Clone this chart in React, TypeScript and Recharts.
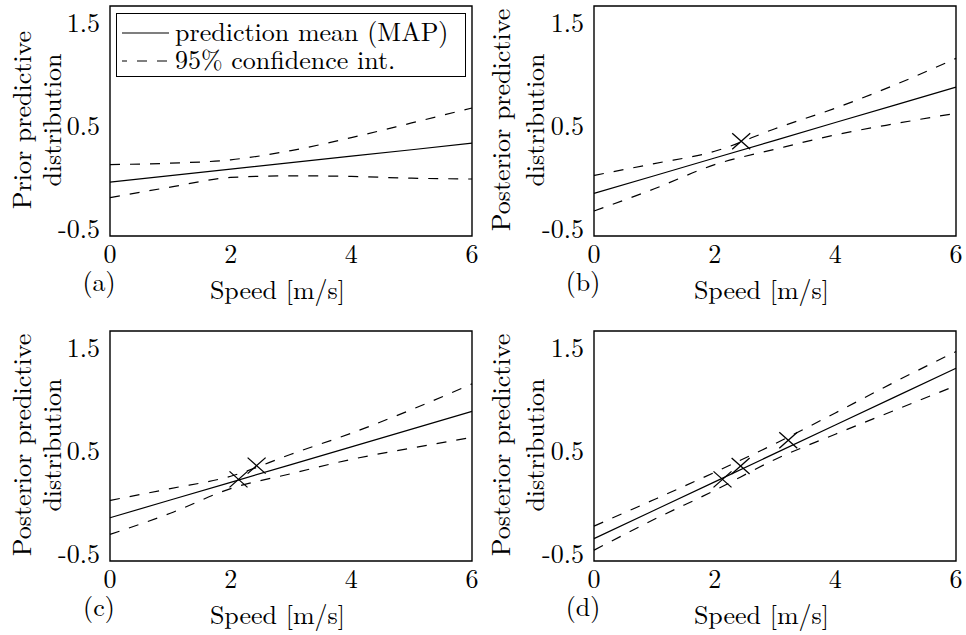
import { ComposedChart, Line, Scatter, XAxis, YAxis, ReferenceArea } from "recharts";

// speed grid (m/s) and curves
const speeds = [0, 1, 2, 3, 4, 5, 6];

const meanA = [-0.05, 0.013, 0.076, 0.139, 0.202, 0.265, 0.33];
const upperA = [0.121, 0.134, 0.167, 0.257, 0.383, 0.526, 0.672];
const lowerA = [-0.202, -0.099, -0.005, 0.011, 0.005, -0.012, -0.02];

const meanB = [-0.16, 0.012, 0.185, 0.357, 0.53, 0.702, 0.875];
const upperB = [0.015, 0.13, 0.25, 0.47, 0.67, 0.9, 1.155];
const lowerB = [-0.332, -0.115, 0.12, 0.27, 0.41, 0.52, 0.62];

const meanC = [-0.154, 0.019, 0.191, 0.364, 0.537, 0.709, 0.882];
const upperC = [0.015, 0.13, 0.25, 0.465, 0.67, 0.9, 1.15];
const lowerC = [-0.316, -0.11, 0.13, 0.275, 0.415, 0.525, 0.63];

const meanD = [-0.357, -0.08, 0.196, 0.473, 0.75, 1.026, 1.303];
const upperD = [-0.235, 0.024, 0.289, 0.567, 0.867, 1.173, 1.465];
const lowerD = [-0.47, -0.169, 0.112, 0.414, 0.66, 0.897, 1.133];

// observed points (crosses)
const obsSpeedB = [2.44];
const obsValueB = [0.348];
const obsSpeedC = [2.13, 2.43];
const obsValueC = [0.22, 0.354];
const obsSpeedD = [2.13, 2.43, 3.22];
const obsValueD = [0.22, 0.35, 0.6];

const xTicks = [0, 2, 4, 6];
const yTicks = [-0.5, 0.5, 1.5];
const yTickLabels = ["-0.5", "0.5", "1.5"];

const FONT = '"Latin Modern Roman", "Liberation Serif", serif';
const FS = 26;
const DASH = "10 10";

const rows = (mean: number[], upper: number[], lower: number[]) =>
  speeds.map((x, i) => ({ x, mean: mean[i], upper: upper[i], lower: lower[i] }));

const points = (xs: number[], ys: number[]) => xs.map((x, i) => ({ x, y: ys[i] }));

const Cross = (props: any) => {
  const { cx, cy } = props;
  if (cx == null || cy == null) return null;
  return (
    <g>
      <line x1={cx - 9} y1={cy - 8} x2={cx + 9} y2={cy + 8} stroke="#000" strokeWidth={1.3} />
      <line x1={cx - 9} y1={cy + 8} x2={cx + 9} y2={cy - 8} stroke="#000" strokeWidth={1.3} />
    </g>
  );
};

const textStyle = { fontFamily: FONT };

// pad = extra room on the left so the rotated title is not clipped
function Panel({ data, obs, caption, yTitle, titleX, legend, pad = 0 }: any) {
  const yLabel = (props: any) => {
    const vb = props.viewBox;
    const cy = vb.y + vb.height / 2 - 1;
    return (
      <g>
        {yTitle.map((t: string, i: number) => (
          <text
            key={i}
            x={titleX[i] + pad}
            y={cy}
            transform={`rotate(-90, ${titleX[i] + pad}, ${cy})`}
            textAnchor="middle"
            dominantBaseline="central"
            fontSize={FS}
            fill="#000"
            style={textStyle}
          >
            {t}
          </text>
        ))}
      </g>
    );
  };
  const xLabel = (props: any) => {
    const vb = props.viewBox;
    return (
      <g>
        <text x={99 + pad} y={vb.y + 44} textAnchor="middle" dominantBaseline="central" fontSize={FS} fill="#000" style={textStyle}>
          {caption}
        </text>
        <text x={277.5 + pad} y={vb.y + 52.5} textAnchor="middle" dominantBaseline="central" fontSize={FS} fill="#000" style={textStyle}>
          Speed [m/s]
        </text>
      </g>
    );
  };

  return (
    <div style={{ position: "relative", width: 483 + pad, height: 310 }}>
      <ComposedChart width={483 + pad} height={310} data={data} margin={{ top: 6, right: 11, bottom: 0, left: 0 }}>
        <XAxis
          type="number"
          dataKey="x"
          domain={[0, 6]}
          ticks={xTicks}
          tickLine={false}
          axisLine={false}
          tickMargin={3}
          height={74}
          tick={{ fill: "#000", fontSize: FS, fontFamily: FONT }}
          label={xLabel}
        />
        <YAxis
          type="number"
          domain={[-0.575, 1.665]}
          ticks={yTicks}
          tickFormatter={(v: number) => yTickLabels[yTicks.indexOf(v)]}
          tickLine={false}
          axisLine={false}
          tickMargin={4}
          width={110 + pad}
          tick={{ fill: "#000", fontSize: FS, fontFamily: FONT }}
          label={yLabel}
        />
        <ReferenceArea x1={0} x2={6} y1={-0.575} y2={1.665} fill="none" stroke="#000" strokeWidth={1.4} strokeOpacity={1} />
        <Line type="monotone" dataKey="upper" stroke="#000" strokeWidth={1.2} strokeDasharray={DASH} dot={false} isAnimationActive={false} />
        <Line type="monotone" dataKey="lower" stroke="#000" strokeWidth={1.2} strokeDasharray={DASH} dot={false} isAnimationActive={false} />
        <Line type="linear" dataKey="mean" stroke="#000" strokeWidth={1.2} dot={false} isAnimationActive={false} />
        {obs && <Scatter data={obs} dataKey="y" shape={Cross} isAnimationActive={false} />}
      </ComposedChart>
      {legend && (
        <div
          style={{
            position: "absolute",
            left: 116 + pad,
            top: 13,
            width: 348,
            height: 62,
            border: "1.4px solid #000",
            background: "#fff",
            fontSize: FS,
            lineHeight: 1,
            ...textStyle,
          }}
        >
          <svg width={60} height={62} style={{ position: "absolute", left: 0, top: 0 }}>
            <line x1={5} y1={19} x2={52} y2={19} stroke="#000" strokeWidth={1.2} />
            <line x1={5} y1={47} x2={52} y2={47} stroke="#000" strokeWidth={1.2} strokeDasharray={DASH} strokeDashoffset={5} />
          </svg>
          <span style={{ position: "absolute", left: 58, top: 4, whiteSpace: "nowrap" }}>prediction mean (MAP)</span>
          <span style={{ position: "absolute", left: 58, top: 32, whiteSpace: "nowrap" }}>95% confidence int.</span>
        </div>
      )}
    </div>
  );
}

export default function App() {
  const post = ["Posterior predictive", "distribution"];
  return (
    <div
      style={{
        position: "absolute",
        left: 0,
        top: 0,
        width: 966,
        height: 635,
        background: "#fff",
        color: "#000",
        ...textStyle,
      }}
    >
      <div style={{ position: "absolute", left: 0, top: 0 }}>
        <Panel
          data={rows(meanA, upperA, lowerA)}
          caption="(a)"
          yTitle={["Prior predictive", "distribution"]}
          titleX={[20.5, 50]}
          legend
        />
      </div>
      <div style={{ position: "absolute", left: 474, top: 0 }}>
        <Panel data={rows(meanB, upperB, lowerB)} obs={points(obsSpeedB, obsValueB)} caption="(b)" yTitle={post} titleX={[15.5, 49]} pad={10} />
      </div>
      <div style={{ position: "absolute", left: 0, top: 325 }}>
        <Panel data={rows(meanC, upperC, lowerC)} obs={points(obsSpeedC, obsValueC)} caption="(c)" yTitle={post} titleX={[20.5, 50]} />
      </div>
      <div style={{ position: "absolute", left: 474, top: 325 }}>
        <Panel data={rows(meanD, upperD, lowerD)} obs={points(obsSpeedD, obsValueD)} caption="(d)" yTitle={post} titleX={[15.5, 49]} pad={10} />
      </div>
    </div>
  );
}
